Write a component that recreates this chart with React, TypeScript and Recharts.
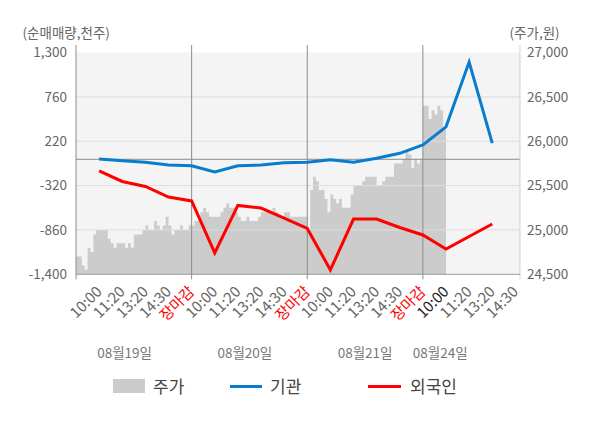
import React from 'react';
import {
  ComposedChart,
  Area,
  Line,
  XAxis,
  YAxis,
  CartesianGrid,
  ReferenceLine,
  Legend,
} from 'recharts';

const FONT = "'Noto Sans CJK KR', 'Noto Sans', sans-serif";
const BLUE = '#0a7cce';
const RED = '#ff0000';
const PRICE_FILL = '#cccccc';

// x axis: time slots (5 per trading day)
const timeLabels = [
  '10:00', '11:20', '13:20', '14:30', '장마감',
  '10:00', '11:20', '13:20', '14:30', '장마감',
  '10:00', '11:20', '13:20', '14:30', '장마감',
  '10:00', '11:20', '13:20', '14:30',
];
const timeSlots = [1, 2, 3, 4, 5, 6, 7, 8, 9, 10, 11, 12, 13, 14, 15, 16, 17, 18, 19];
const currentSlot = 16;
const dateLabels = ['08월19일', '08월20일', '08월21일', '08월24일'];
const dateSlots = [2.1, 7.3, 12.5, 15.75];
const dayStartSlots = [0, 5, 10, 15];
const xEnd = 19.2;

// price (원), sampled through each day
const priceDay1 = [
  24700, 24700, 24600, 24550, 24800, 24750, 24950, 25000, 25000, 25000,
  25000, 24900, 24850, 24800, 24850, 24850, 24850, 24800, 24850, 24800,
  24950, 24950, 24950, 25000, 25050, 25000, 25000, 25100, 25050, 25000,
  25050, 25150, 25050, 24950, 25000, 25000, 25050, 25000, 25000, 25050,
];
const priceDay2 = [
  25050, 25100, 25100, 25200, 25250, 25200, 25150, 25150, 25150, 25150,
  25200, 25250, 25300, 25250, 25250, 25200, 25150, 25100, 25100, 25150,
  25100, 25100, 25100, 25150, 25200, 25200, 25200, 25200, 25250, 25200,
  25150, 25150, 25200, 25200, 25150, 25150, 25150, 25150, 25150, 25150,
];
const priceDay3 = [
  25000, 25450, 25600, 25550, 25450, 25450, 25350, 25200, 25400, 25350,
  25300, 25350, 25250, 25250, 25250, 25400, 25500, 25500, 25500, 25550,
  25600, 25600, 25600, 25600, 25500, 25500, 25550, 25600, 25600, 25600,
  25750, 25750, 25750, 25800, 25900, 25850, 25700, 25800, 25750, 25800,
];
const priceDay4 = [26400, 26400, 26250, 26350, 26300, 26400, 26350, 26150];
const priceNow = 26100;

// net buying (천주) at each time slot
const flowSlots = [1, 2, 3, 4, 5, 6, 7, 8, 9, 10, 11, 12, 13, 14, 15, 16, 17, 18];
const institution = [5, -17, -37, -70, -78, -155, -78, -70, -41, -37, -5, -37, 12, 73, 174, 395, 1183, 196];
const foreigner = [-142, -270, -331, -459, -507, -1140, -562, -593, -715, -842, -1347, -727, -727, -830, -921, -1092, -940, -787];

const leftTicks = [-1400, -860, -320, 220, 760, 1300];
const rightTicks = [24500, 25000, 25500, 26000, 26500, 27000];
const gridValues = [760, 220, -320, -860];

const priceDays = [priceDay1, priceDay2, priceDay3, priceDay4];
const priceData: { x: number; price: number }[] = [];
priceDays.forEach((day, d) => {
  day.forEach((p, i) => {
    priceData.push({ x: dayStartSlots[d] + (i * 5) / 40, price: p });
  });
});
priceData.push({ x: currentSlot, price: priceNow });

const flowData = flowSlots.map((s, i) => ({ x: s, inst: institution[i], foreign: foreigner[i] }));

const fmt = (v: number) => v.toLocaleString('en-US');

const XTick = (props: any) => {
  const { x, y, payload } = props;
  const v = payload.value;
  const ti = timeSlots.indexOf(v);
  if (ti >= 0) {
    const label = timeLabels[ti];
    const color = label === '장마감' ? RED : v === currentSlot ? '#222' : '#666';
    const ty = y + 14.5;
    return (
      <text
        x={x}
        y={ty}
        dy="0.35em"
        textAnchor="end"
        transform={`rotate(-45 ${x} ${ty})`}
        fill={color}
        fontSize={15}
        fontFamily={FONT}
      >
        {label}
      </text>
    );
  }
  const di = dateSlots.indexOf(v);
  if (di >= 0) {
    return (
      <text x={x} y={y + 79} dy="0.35em" textAnchor="middle" fill="#777" fontSize={13.5} fontFamily={FONT}>
        {dateLabels[di]}
      </text>
    );
  }
  return null;
};

const LegendContent = () => {
  const textStyle: React.CSSProperties = { marginLeft: 8, fontSize: 17, color: '#444', lineHeight: '24px' };
  const item: React.CSSProperties = { position: 'absolute', top: 0, height: 24, display: 'flex', alignItems: 'center' };
  return (
    <div style={{ position: 'relative', width: 600, height: 24, fontFamily: FONT }}>
      <div style={{ ...item, left: 113 }}>
        <span style={{ display: 'inline-block', width: 32, height: 14, background: PRICE_FILL }} />
        <span style={textStyle}>주가</span>
      </div>
      <div style={{ ...item, left: 230 }}>
        <span style={{ display: 'inline-block', width: 32, height: 3, background: BLUE }} />
        <span style={textStyle}>기관</span>
      </div>
      <div style={{ ...item, left: 368 }}>
        <span style={{ display: 'inline-block', width: 33, height: 3, background: RED }} />
        <span style={{ ...textStyle, marginLeft: 9 }}>외국인</span>
      </div>
    </div>
  );
};

export default function App() {
  return (
    <div style={{ position: 'absolute', left: 0, top: 0, width: 600, height: 428, background: '#fff' }}>
      <ComposedChart width={600} height={428} margin={{ top: 52.5, right: 0, bottom: 61.7, left: 16 }}>
        <CartesianGrid xAxisId="x" yAxisId="left" horizontal={false} vertical={false} fill="#f4f4f4" stroke="none" />
        <XAxis
          xAxisId="x"
          type="number"
          dataKey="x"
          domain={[0, xEnd]}
          ticks={[...timeSlots, ...dateSlots]}
          interval={0}
          tick={(p: any) => <XTick {...p} />}
          tickLine={false}
          tickSize={0}
          tickMargin={0}
          axisLine={{ stroke: '#999' }}
          height={92}
          allowDataOverflow
        />
        <YAxis
          yAxisId="left"
          orientation="left"
          width={60}
          domain={[-1400, 1300]}
          ticks={leftTicks}
          tickFormatter={fmt}
          axisLine={false}
          tickLine={false}
          tickSize={0}
          tickMargin={9}
          tick={{ fill: '#666', fontSize: 13.5, fontFamily: FONT }}
          allowDataOverflow
          label={(p: any) => (
            <text x={p.viewBox.x + 6.5} y={p.viewBox.y - 19} dy="0.35em" fill="#666" fontSize={13.5} fontFamily={FONT}>
              (순매매량,천주)
            </text>
          )}
        />
        <YAxis
          yAxisId="right"
          orientation="right"
          width={80}
          domain={[24500, 27000]}
          ticks={rightTicks}
          tickFormatter={fmt}
          axisLine={false}
          tickLine={false}
          tickSize={0}
          tickMargin={7}
          tick={{ fill: '#666', fontSize: 13.5, fontFamily: FONT }}
          allowDataOverflow
          label={(p: any) => (
            <text x={p.viewBox.x - 10.5} y={p.viewBox.y - 19} dy="0.35em" fill="#666" fontSize={13.5} fontFamily={FONT}>
              (주가,원)
            </text>
          )}
        />
        <Area
          xAxisId="x"
          yAxisId="right"
          data={priceData}
          dataKey="price"
          name="주가"
          type="stepAfter"
          stroke="none"
          fill={PRICE_FILL}
          fillOpacity={1}
          dot={false}
          activeDot={false}
          isAnimationActive={false}
        />
        {gridValues.map((v) => (
          <ReferenceLine key={`g${v}`} xAxisId="x" yAxisId="left" y={v} stroke="#dddddd" strokeWidth={1} zIndex={150} />
        ))}
        <ReferenceLine xAxisId="x" yAxisId="left" y={0} stroke="#8c8c8c" strokeWidth={1} zIndex={160} />
        {dayStartSlots.map((s) => (
          <ReferenceLine
            key={`d${s}`}
            xAxisId="x"
            yAxisId="left"
            segment={[{ x: s, y: -1461 }, { x: s, y: 1391 }]}
            ifOverflow="visible"
            stroke="#8c8c8c"
            strokeWidth={1}
            zIndex={160}
          />
        ))}
        <ReferenceLine
          xAxisId="x"
          yAxisId="left"
          segment={[{ x: xEnd, y: -1461 }, { x: xEnd, y: 1391 }]}
          ifOverflow="visible"
          stroke="#cfcfcf"
          strokeWidth={1}
          zIndex={160}
        />
        <Line
          xAxisId="x"
          yAxisId="left"
          data={flowData}
          dataKey="inst"
          name="기관"
          type="linear"
          stroke={BLUE}
          strokeWidth={3}
          dot={false}
          activeDot={false}
          isAnimationActive={false}
        />
        <Line
          xAxisId="x"
          yAxisId="left"
          data={flowData}
          dataKey="foreign"
          name="외국인"
          type="linear"
          stroke={RED}
          strokeWidth={3}
          dot={false}
          activeDot={false}
          isAnimationActive={false}
        />
        <Legend
          layout="horizontal"
          verticalAlign="middle"
          align="center"
          content={() => <LegendContent />}
          wrapperStyle={{ left: 0, top: 374, width: 600, height: 24 }}
        />
      </ComposedChart>
    </div>
  );
}
